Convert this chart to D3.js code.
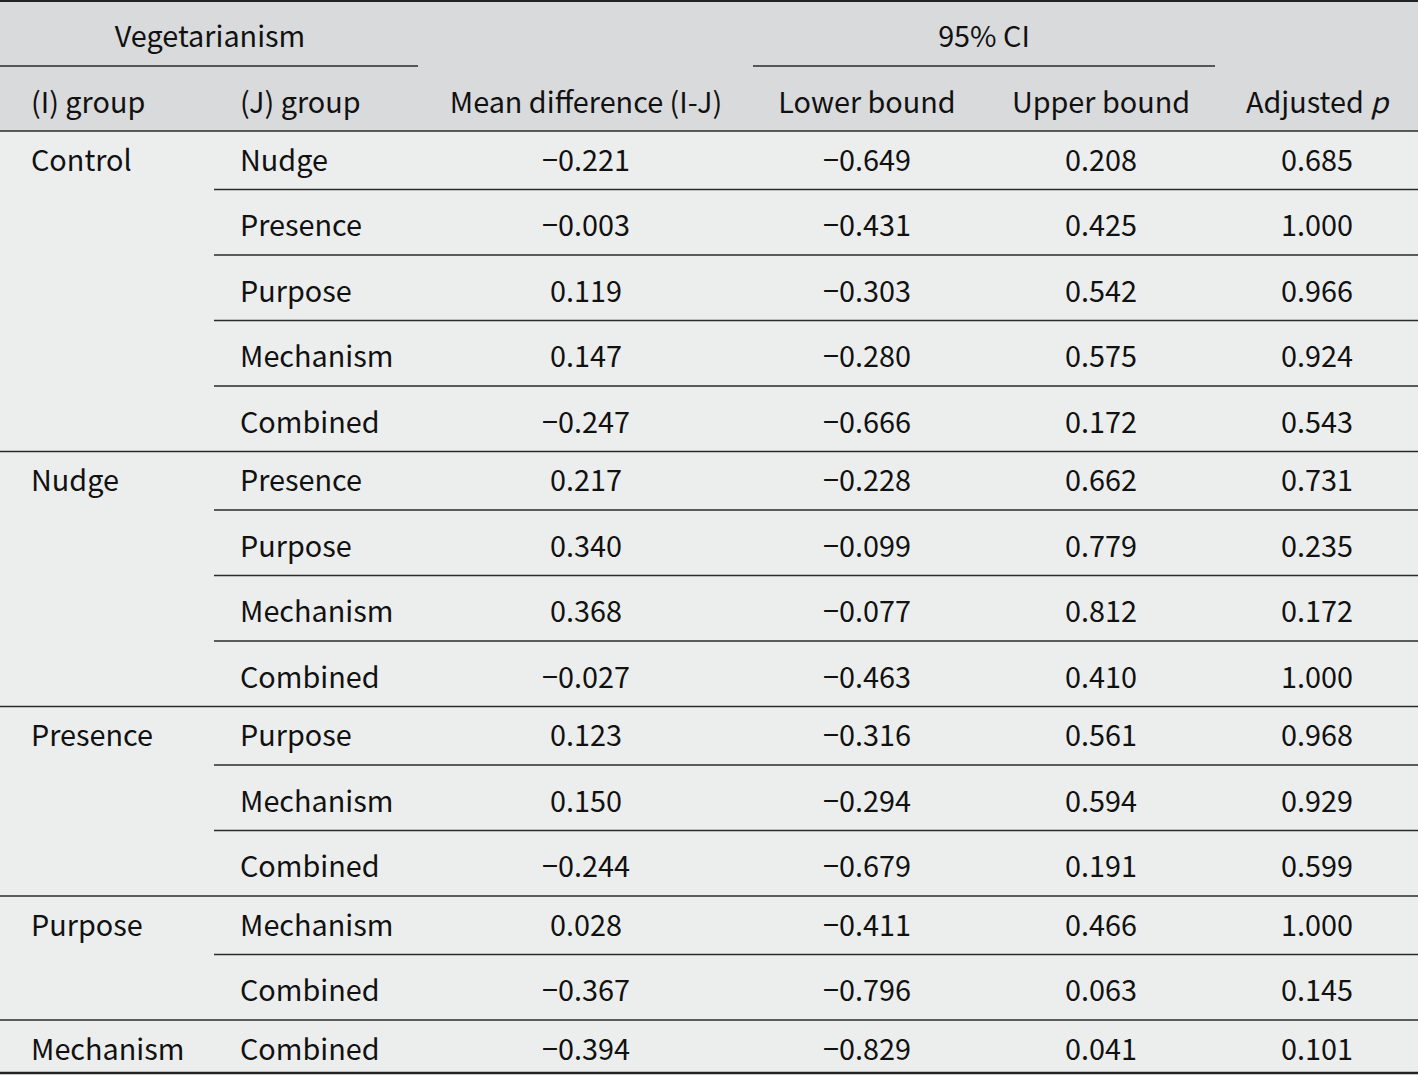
<!DOCTYPE html>
<html><head><meta charset="utf-8">
<script src="https://cdn.jsdelivr.net/npm/d3@7"></script>
<style>
html,body{margin:0;padding:0;background:#fff;}
svg{display:block;}
text{font-family:"Noto Sans CJK SC","Source Sans Pro","Noto Sans",sans-serif;fill:#111;}
</style></head><body>
<svg id="t" width="1418" height="1075"></svg>
<script>
const groupI = ["Control","Control","Control","Control","Control","Nudge","Nudge","Nudge","Nudge","Presence","Presence","Presence","Purpose","Purpose","Mechanism"];
const groupJ = ["Nudge","Presence","Purpose","Mechanism","Combined","Presence","Purpose","Mechanism","Combined","Purpose","Mechanism","Combined","Mechanism","Combined","Combined"];
const meanDiff = ["−0.221","−0.003","0.119","0.147","−0.247","0.217","0.340","0.368","−0.027","0.123","0.150","−0.244","0.028","−0.367","−0.394"];
const lowerBound = ["−0.649","−0.431","−0.303","−0.280","−0.666","−0.228","−0.099","−0.077","−0.463","−0.316","−0.294","−0.679","−0.411","−0.796","−0.829"];
const upperBound = ["0.208","0.425","0.542","0.575","0.172","0.662","0.779","0.812","0.410","0.561","0.594","0.191","0.466","0.063","0.041"];
const adjustedP = ["0.685","1.000","0.966","0.924","0.543","0.731","0.235","0.172","1.000","0.968","0.929","0.599","1.000","0.145","0.101"];
const headerTop = ["Vegetarianism","95% CI"];
const headerCols = ["(I) group","(J) group","Mean difference (I-J)","Lower bound","Upper bound","Adjusted p"];

const W = 1418, FS = 28.8;
const svg = d3.select("#t");
const lineColor = "#2a2a2a";

// column layout
const cols = [
  {x:31, anchor:"start"},
  {x:240, anchor:"start"},
  {x:586, anchor:"middle"},
  {x:867, anchor:"middle"},
  {x:1101, anchor:"middle"},
  {x:1317, anchor:"middle"}
];
const spans = [{x0:0,x1:418},{x0:753,x1:1215}];

// row layout
const hdr1 = 66, hdr2 = 131;
const rows = groupI.map((g,i)=>({i, gi:g, gj:groupJ[i], vals:[meanDiff[i],lowerBound[i],upperBound[i],adjustedP[i]],
  first: i===0 || groupI[i-1]!==g, last: i===groupI.length-1}));
let y = hdr2;
rows.forEach(r=>{
  r.y0 = y;
  r.h = r.last ? 53 : (r.first ? 58.5 : 65.5);
  r.cy = y + (r.first ? 29 : 36);
  y += r.h;
  r.y1 = y;
  r.groupEnd = r.last || groupI[r.i+1]!==r.gi;
});
const H = y;
const base = cy => cy + 0.345*FS + 1;

// backgrounds
svg.append("rect").attr("x",0).attr("y",0).attr("width",W).attr("height",hdr2).attr("fill","#d9dadc");
svg.append("rect").attr("x",0).attr("y",hdr2).attr("width",W).attr("height",H-hdr2).attr("fill","#eceeed");

// header texts
svg.selectAll("text.h1").data(headerTop).join("text").attr("class","h1")
  .attr("x",(d,i)=>(spans[i].x0+spans[i].x1)/2 + (i===0?1:0)).attr("y",base(36))
  .attr("text-anchor","middle").attr("font-size",FS).text(d=>d);
svg.selectAll("line.span").data(spans).join("line").attr("class","span")
  .attr("x1",d=>d.x0).attr("x2",d=>d.x1).attr("y1",hdr1).attr("y2",hdr1)
  .attr("stroke",lineColor).attr("stroke-width",1.5);

svg.selectAll("text.h2").data(headerCols).join("text").attr("class","h2")
  .attr("x",(d,i)=>cols[i].x).attr("y",base(102))
  .attr("text-anchor",(d,i)=>cols[i].anchor).attr("font-size",FS)
  .each(function(d){
    const t = d3.select(this);
    if (d.endsWith(" p")) {
      t.append("tspan").text(d.slice(0,-1));
      t.append("tspan").attr("font-style","italic").text("p");
    } else t.text(d);
  });

// body
const g = svg.selectAll("g.row").data(rows).join("g").attr("class","row");
g.filter(d=>d.first).append("text").attr("x",cols[0].x).attr("y",d=>base(d.cy))
  .attr("font-size",FS).text(d=>d.gi);
g.append("text").attr("x",cols[1].x).attr("y",d=>base(d.cy)).attr("font-size",FS).text(d=>d.gj);
g.selectAll("text.v").data(d=>d.vals.map((v,k)=>({v,k,cy:d.cy}))).join("text").attr("class","v")
  .attr("x",d=>cols[d.k+2].x).attr("y",d=>base(d.cy)).attr("text-anchor","middle")
  .attr("font-size",FS).text(d=>d.v);

// row lines
g.filter(d=>!d.last).append("line")
  .attr("x1",d=>d.groupEnd?0:214).attr("x2",W)
  .attr("y1",d=>d.y1).attr("y2",d=>d.y1)
  .attr("stroke",lineColor).attr("stroke-width",1.5);

// header line, top and bottom borders
svg.append("line").attr("x1",0).attr("x2",W).attr("y1",hdr2).attr("y2",hdr2).attr("stroke",lineColor).attr("stroke-width",1.5);
svg.append("line").attr("x1",0).attr("x2",W).attr("y1",1).attr("y2",1).attr("stroke","#222").attr("stroke-width",2);
svg.append("line").attr("x1",0).attr("x2",W).attr("y1",H).attr("y2",H).attr("stroke","#222").attr("stroke-width",2.5);
</script>
</body></html>
